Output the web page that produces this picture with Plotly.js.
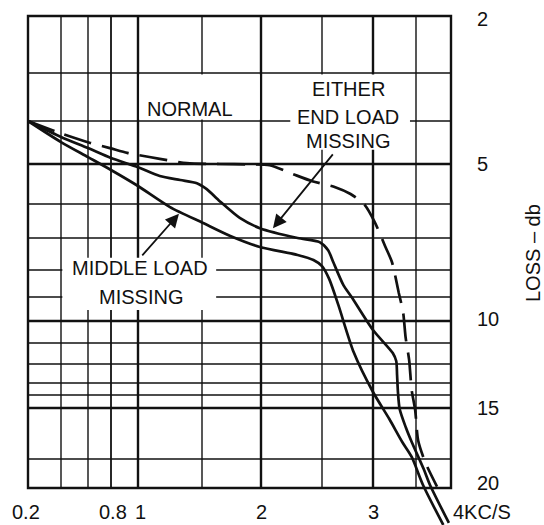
<!DOCTYPE html>
<html>
<head>
<meta charset="utf-8">
<script src="https://cdn.plot.ly/plotly-3.0.1.min.js"></script>
<style>
  html, body { margin: 0; padding: 0; background: #fff; }
  #chart { width: 544px; height: 525px; }
</style>
</head>
<body>
<div id="chart"></div>
<script>
// Loss (db) against frequency (KC/S) for a loaded line.
const normalFreq = [0.2, 0.41, 0.62, 0.79, 0.92, 1.0, 1.17, 1.38, 1.65, 1.9, 2.07, 2.26, 2.42, 2.63, 2.78, 2.92, 3.02, 3.14, 3.22, 3.3, 3.35, 3.38, 3.42, 3.45, 3.49, 3.53, 3.63, 3.8];
const normalLoss = [4.0, 4.3, 4.51, 4.63, 4.74, 4.79, 4.88, 4.98, 5.0, 5.01, 5.03, 5.25, 5.43, 5.58, 5.75, 6.03, 6.53, 7.25, 7.75, 8.85, 9.63, 10.77, 11.8, 13.6, 15.1, 16.9, 18.2, 19.9];

const endMissingFreq = [0.2, 0.4, 0.6, 0.8, 1.0, 1.17, 1.33, 1.46, 1.54, 1.65, 1.82, 1.99, 2.3, 2.48, 2.56, 2.61, 2.71, 2.79, 3.0, 3.23, 3.27, 3.28, 3.29, 3.31, 3.38, 3.45, 3.61, 3.7, 3.97];
const endMissingLoss = [4.0, 4.37, 4.63, 4.86, 5.08, 5.3, 5.4, 5.48, 5.63, 5.93, 6.41, 6.71, 7.0, 7.13, 7.38, 7.75, 8.56, 9.0, 10.41, 11.48, 11.86, 12.58, 13.75, 15.06, 16.12, 17.0, 18.69, 19.79, 22.41];

const middleMissingFreq = [0.2, 0.4, 0.6, 0.8, 1.0, 1.25, 1.51, 1.74, 1.99, 2.3, 2.43, 2.5, 2.57, 2.66, 2.81, 3.0, 3.19, 3.34, 3.45, 3.6, 3.89];
const middleMissingLoss = [4.0, 4.49, 4.84, 5.15, 5.55, 6.09, 6.56, 6.94, 7.28, 7.53, 7.69, 7.88, 8.33, 9.33, 11.43, 13.75, 15.65, 17.0, 17.88, 19.79, 22.55];

const freqTicks = [0.2, 0.8, 1, 2, 3];
const freqTickText = ['0.2', '0.8', '1', '2', '3'];
const freqUnitText = '4KC/S';
const lossTicks = [2, 5, 10, 15, 20];
const lossTickText = ['2', '5', '10', '15', '20'];
const lossTitle = 'LOSS \u2013 db';

// The chart paper is ruled on non-uniform scales: each ruled value is
// paired with its place on the sheet, and values between rulings are
// placed proportionally.
const freqRules = [0.2, 0.4, 0.6, 0.8, 1, 1.5, 2, 2.5, 3, 3.5, 4];
const freqRulePos = [28, 61, 88, 111, 138, 202, 261, 322, 373, 416, 451];
const lossRules = [2, 3, 4, 5, 6, 7, 8, 9, 10, 11, 12, 13, 14, 15, 18, 20];
const lossRulePos = [16, 73, 121, 164, 204, 238, 270, 297, 321, 343, 364, 383, 395, 408, 459, 488];
const heavyFreq = [1, 2, 3];
const heavyLoss = [5, 10, 15];

function ruledScale(vals, pos) {
  return v => {
    let i = 1;
    while (i < vals.length - 1 && v > vals[i]) i++;
    const t = (v - vals[i - 1]) / (vals[i] - vals[i - 1]);
    return pos[i - 1] + t * (pos[i] - pos[i - 1]);
  };
}
const fx = ruledScale(freqRules, freqRulePos);
const ly = ruledScale(lossRules, lossRulePos);

const INK = '#111111';
const FONT = 'Liberation Sans, Arial, sans-serif';
const LABEL_SIZE = 20;

const fMin = freqRules[0], fMax = freqRules[freqRules.length - 1];
const lMin = lossRules[0], lMax = lossRules[lossRules.length - 1];

const shapes = [];
// ruled grid
freqRules.slice(1, -1).forEach(f => {
  shapes.push({
    type: 'line', xref: 'x', yref: 'y', layer: 'below',
    x0: fx(f), x1: fx(f), y0: ly(lMin), y1: ly(lMax),
    line: { color: INK, width: heavyFreq.includes(f) ? 2.4 : (f === 0.8 ? 1.8 : 1.4) }
  });
});
lossRules.slice(1, -1).forEach(l => {
  shapes.push({
    type: 'line', xref: 'x', yref: 'y', layer: 'below',
    x0: fx(fMin), x1: fx(fMax), y0: ly(l), y1: ly(l),
    line: { color: INK, width: heavyLoss.includes(l) ? 2.6 : 1.5 }
  });
});
// blank patches of paper behind the curve labels
const labelPatches = [
  { f0: 1.01, f1: 1.99, l0: 3.03, l1: 3.97 },
  { f0: 2.24, f1: 3.43, l0: 3.03, l1: 4.67 },
  { f0: 0.41, f1: 1.62, l0: 7.62, l1: 9.54 }
];
labelPatches.forEach(p => {
  shapes.push({
    type: 'rect', xref: 'x', yref: 'y', layer: 'below',
    x0: fx(p.f0), x1: fx(p.f1), y0: ly(p.l0), y1: ly(p.l1),
    fillcolor: '#ffffff', line: { width: 0 }
  });
});
// outer border
shapes.push({
  type: 'rect', xref: 'x', yref: 'y', layer: 'below',
  x0: fx(fMin), x1: fx(fMax), y0: ly(lMin), y1: ly(lMax),
  line: { color: INK, width: 2.4 }
});

function curve(freq, loss, dash) {
  return {
    type: 'scatter', mode: 'lines',
    x: freq.map(fx), y: loss.map(ly),
    line: { color: INK, width: 2.7, shape: 'spline', smoothing: 0.7, dash: dash || 'solid' },
    hoverinfo: 'skip', showlegend: false
  };
}

const traces = [
  curve(normalFreq, normalLoss, '28px,11px'),
  curve(endMissingFreq, endMissingLoss),
  curve(middleMissingFreq, middleMissingLoss)
];

const annotations = [];
function label(text, f, l) {
  annotations.push({
    text: text, x: fx(f), y: ly(l), xref: 'x', yref: 'y',
    showarrow: false, xanchor: 'center', yanchor: 'middle',
    font: { family: FONT, size: LABEL_SIZE, color: INK }
  });
}
label('NORMAL', 1.406, 3.75);
label('EITHER', 2.755, 3.33);
label('END LOAD', 2.755, 3.92);
label('MISSING', 2.755, 4.47);
label('MIDDLE LOAD', 1.016, 7.94);
label('MISSING', 1.023, 9.0);

function pointer(fTip, lTip, fTail, lTail) {
  annotations.push({
    text: '', x: fx(fTip), y: ly(lTip), xref: 'x', yref: 'y',
    ax: fx(fTail), ay: ly(lTail), axref: 'x', ayref: 'y',
    showarrow: true, arrowhead: 2, arrowsize: 1.5, arrowwidth: 1.8,
    arrowcolor: INK, standoff: 0
  });
}
pointer(2.098, 6.71, 2.618, 4.74);
pointer(1.32, 6.29, 1.023, 7.59);

// frequency scale along the foot of the sheet
freqTicks.forEach((f, i) => {
  annotations.push({
    text: freqTickText[i], x: fx(f), y: ly(lMax), xref: 'x', yref: 'y',
    xshift: f === 0.2 ? -2 : (f < 1.5 ? 2 : 0), yshift: -24,
    showarrow: false, xanchor: 'center', yanchor: 'middle',
    font: { family: FONT, size: LABEL_SIZE, color: INK }
  });
});
annotations.push({
  text: freqUnitText, x: fx(fMax), y: ly(lMax), xref: 'x', yref: 'y',
  xshift: 0, yshift: -24, showarrow: false, xanchor: 'left', yanchor: 'middle',
  font: { family: FONT, size: LABEL_SIZE, color: INK }
});

// loss scale on the right
const lossShift = { 2: -3, 5: 0, 10: 2, 15: 0, 20: 5 };
lossTicks.forEach((l, i) => {
  annotations.push({
    text: lossTickText[i], x: fx(fMax), y: ly(l), xref: 'x', yref: 'y',
    xshift: 24, yshift: lossShift[l], showarrow: false,
    xanchor: 'left', yanchor: 'middle',
    font: { family: FONT, size: LABEL_SIZE, color: INK }
  });
});
annotations.push({
  text: lossTitle, x: fx(fMax), y: ly(7.47), xref: 'x', yref: 'y',
  xshift: 82, showarrow: false, textangle: -90,
  xanchor: 'center', yanchor: 'middle',
  font: { family: FONT, size: LABEL_SIZE, color: INK }
});

const layout = {
  width: 544, height: 525,
  margin: { l: 0, r: 0, t: 0, b: 0 },
  paper_bgcolor: '#ffffff', plot_bgcolor: '#ffffff',
  xaxis: { range: [0, 544], visible: false, fixedrange: true },
  yaxis: { range: [525, 0], visible: false, fixedrange: true },
  shapes: shapes,
  annotations: annotations,
  showlegend: false
};

Plotly.newPlot('chart', traces, layout, { displayModeBar: false, staticPlot: true });
</script>
</body>
</html>
